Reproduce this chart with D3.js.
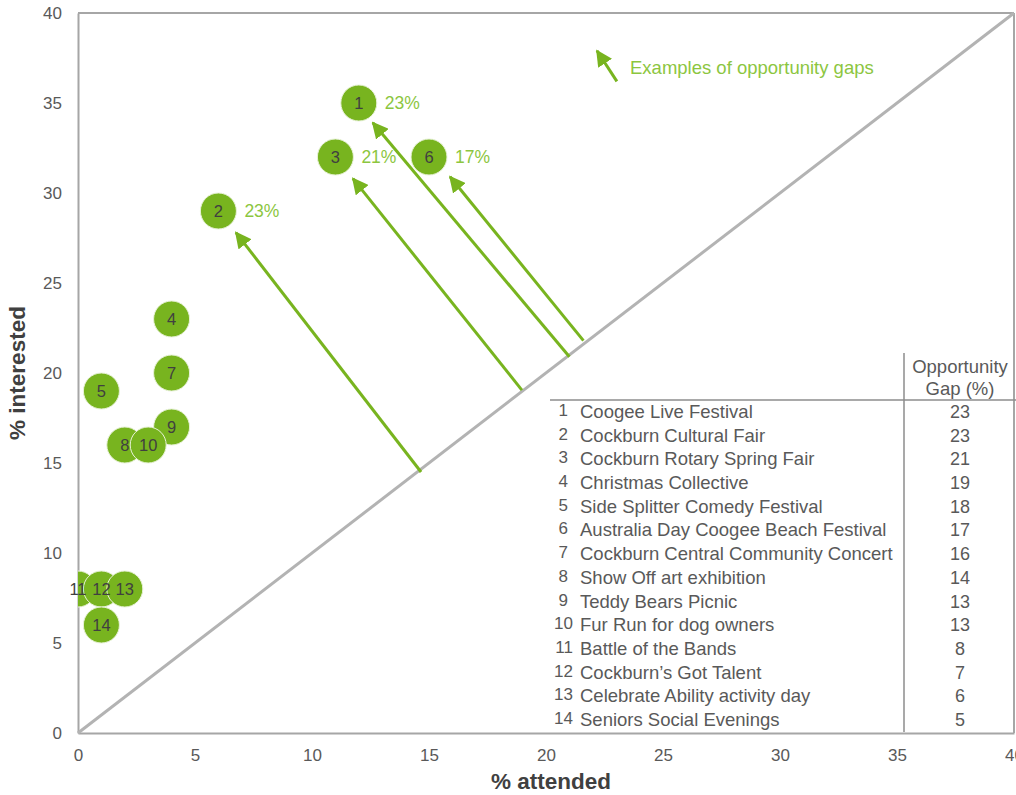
<!DOCTYPE html>
<html>
<head>
<meta charset="utf-8">
<script src="https://cdn.jsdelivr.net/npm/d3@7"></script>
<style>
  html, body { margin: 0; padding: 0; background: #fff; }
  svg { display: block; font-family: "Liberation Sans", Arial, sans-serif; }
</style>
</head>
<body>
<svg id="chart" width="1016" height="795"></svg>
<script>
// ---- data ----
const ids        = [1, 2, 3, 4, 5, 6, 7, 8, 9, 10, 11, 12, 13, 14];
const attended   = [12, 6, 11, 4, 1, 15, 4, 2, 4, 3, 0, 1, 2, 1];
const interested = [35, 29, 32, 23, 19, 32, 20, 16, 17, 16, 8, 8, 8, 6];
const events = ["Coogee Live Festival", "Cockburn Cultural Fair", "Cockburn Rotary Spring Fair",
  "Christmas Collective", "Side Splitter Comedy Festival", "Australia Day Coogee Beach Festival",
  "Cockburn Central Community Concert", "Show Off art exhibition", "Teddy Bears Picnic",
  "Fur Run for dog owners", "Battle of the Bands", "Cockburn\u2019s Got Talent",
  "Celebrate Ability activity day", "Seniors Social Evenings"];
const gaps = [23, 23, 21, 19, 18, 17, 16, 14, 13, 13, 8, 7, 6, 5];
const xTicks = [0, 5, 10, 15, 20, 25, 30, 35, 40];
const yTicks = [0, 5, 10, 15, 20, 25, 30, 35, 40];
// highlighted gaps: point id, label, arrow start (attended, interested) and tip
const gapIds    = [1, 2, 3, 6];
const gapLabels = ["23%", "23%", "21%", "17%"];
const arrowX0 = [21.0, 14.66, 18.97, 21.6];
const arrowY0 = [20.9, 14.5, 19.05, 21.8];
const arrowX1 = [12.6, 6.75, 11.75, 15.9];
const arrowY1 = [33.9, 27.8, 30.8, 30.9];
// legend arrow
const legendArrow = [[23.03, 36.2], [22.18, 37.9]];
const legendText = "Examples of opportunity gaps";

// ---- setup ----
const svg = d3.select("#chart");
const x = d3.scaleLinear().domain([0, 40]).range([78, 1014]);
const y = d3.scaleLinear().domain([0, 40]).range([733, 13]);
const green = "#78b41f";
const lightGreen = "#8cc63f";
const axisGray = "#a6a6a6";
const textGray = "#595959";

svg.append("defs").append("clipPath").attr("id", "plotclip")
  .append("rect").attr("x", x(0)).attr("y", y(40)).attr("width", x(40) - x(0)).attr("height", y(0) - y(40));

svg.append("defs").append("marker")
  .attr("id", "ah").attr("viewBox", "0 0 10 10").attr("refX", 9).attr("refY", 5)
  .attr("markerWidth", 5.5).attr("markerHeight", 5.5).attr("orient", "auto")
  .append("path").attr("d", "M0,0 L10,5 L0,10 Z").attr("fill", green);

// frame: top and right borders
svg.append("line").attr("x1", x(0)).attr("x2", x(40)).attr("y1", y(40)).attr("y2", y(40))
  .attr("stroke", axisGray).attr("stroke-width", 2);
svg.append("line").attr("x1", x(40)).attr("x2", x(40)).attr("y1", y(40)).attr("y2", y(0))
  .attr("stroke", axisGray).attr("stroke-width", 2);

// axes
const xAxis = svg.append("g").attr("transform", `translate(0,${y(0)})`)
  .call(d3.axisBottom(x).tickValues(xTicks).tickSize(0).tickPadding(16).tickFormat(d3.format("d")));
const yAxis = svg.append("g").attr("transform", `translate(${x(0)},0)`)
  .call(d3.axisLeft(y).tickValues(yTicks).tickSize(0).tickPadding(16).tickFormat(d3.format("d")));
[xAxis, yAxis].forEach(g => {
  g.select(".domain").attr("stroke", axisGray).attr("stroke-width", 2);
  g.selectAll("text").attr("fill", textGray).attr("font-size", 17)
    .attr("font-family", "Liberation Sans, Arial, sans-serif");
});

// diagonal
svg.append("line").attr("x1", x(0)).attr("y1", y(0)).attr("x2", x(40)).attr("y2", y(40))
  .attr("stroke", "#b3b3b3").attr("stroke-width", 3);

// axis titles
svg.append("text").attr("x", 551).attr("y", 789).attr("text-anchor", "middle")
  .attr("font-size", 22.5).attr("font-weight", "bold").attr("fill", "#404040").text("% attended");
svg.append("text").attr("transform", `translate(25,${y(20)}) rotate(-90)`).attr("text-anchor", "middle")
  .attr("font-size", 22.5).attr("font-weight", "bold").attr("fill", "#404040").text("% interested");

// arrows
svg.append("g").selectAll("line").data(gapIds).join("line")
  .attr("x1", (d, i) => x(arrowX0[i])).attr("y1", (d, i) => y(arrowY0[i]))
  .attr("x2", (d, i) => x(arrowX1[i])).attr("y2", (d, i) => y(arrowY1[i]))
  .attr("stroke", green).attr("stroke-width", 3).attr("marker-end", "url(#ah)");

// legend arrow + text
svg.append("line").attr("x1", x(legendArrow[0][0])).attr("y1", y(legendArrow[0][1]))
  .attr("x2", x(legendArrow[1][0])).attr("y2", y(legendArrow[1][1]))
  .attr("stroke", green).attr("stroke-width", 3).attr("marker-end", "url(#ah)");
svg.append("text").attr("x", 630).attr("y", 74).attr("font-size", 18.5).attr("fill", lightGreen).text(legendText);

// points
const pts = svg.append("g");
pts.append("g").attr("clip-path", "url(#plotclip)").selectAll("circle").data(ids).join("circle")
  .attr("cx", (d, i) => x(attended[i])).attr("cy", (d, i) => y(interested[i])).attr("r", 18)
  .attr("fill", green).attr("stroke", "#e8f2d8").attr("stroke-width", 1);
pts.append("g").selectAll("text").data(ids).join("text")
  .attr("x", (d, i) => x(attended[i])).attr("y", (d, i) => y(interested[i]) + 6)
  .attr("text-anchor", "middle").attr("font-size", 16.5).attr("fill", "#404040").text(d => d);

// gap labels
svg.append("g").selectAll("text").data(gapIds).join("text")
  .attr("x", (d, i) => x(attended[d - 1]) + 26).attr("y", (d, i) => y(interested[d - 1]) + 6)
  .attr("font-size", 17.5).attr("fill", lightGreen).text((d, i) => gapLabels[i]);

// table
const tbl = svg.append("g");
tbl.append("line").attr("x1", 550).attr("x2", 1016).attr("y1", 400).attr("y2", 400)
  .attr("stroke", "#8c8c8c").attr("stroke-width", 1.5);
tbl.append("line").attr("x1", 904).attr("x2", 904).attr("y1", 353).attr("y2", 732)
  .attr("stroke", "#8c8c8c").attr("stroke-width", 1.5);
tbl.append("text").attr("x", 960).attr("y", 373).attr("text-anchor", "middle")
  .attr("font-size", 18.5).attr("fill", textGray).text("Opportunity");
tbl.append("text").attr("x", 960).attr("y", 395).attr("text-anchor", "middle")
  .attr("font-size", 18.5).attr("fill", textGray).text("Gap (%)");
const rowY = d3.scaleLinear().domain([0, 13]).range([418, 726]);
tbl.append("g").selectAll("text").data(ids).join("text")
  .attr("x", d => d < 10 ? 568 : 573).attr("y", (d, i) => rowY(i) - 2).attr("text-anchor", "end")
  .attr("font-size", 17).attr("fill", textGray).text(d => d);
tbl.append("g").selectAll("text").data(events).join("text")
  .attr("x", 580).attr("y", (d, i) => rowY(i)).attr("font-size", 18.5).attr("fill", textGray).text(d => d);
tbl.append("g").selectAll("text").data(gaps).join("text")
  .attr("x", 960).attr("y", (d, i) => rowY(i)).attr("text-anchor", "middle")
  .attr("font-size", 18).attr("fill", textGray).text(d => d);
</script>
</body>
</html>
